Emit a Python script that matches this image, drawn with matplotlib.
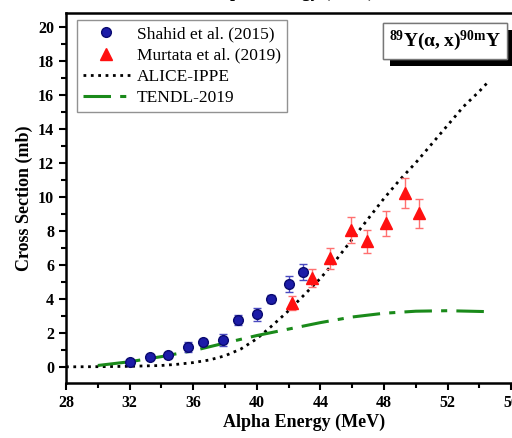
import numpy as np
import matplotlib
matplotlib.use('Agg')
import matplotlib.pyplot as plt
import matplotlib.patheffects as pe
from matplotlib.ticker import MultipleLocator

plt.rcParams['font.family'] = ['Liberation Serif', 'DejaVu Serif']
plt.rcParams['mathtext.fontset'] = 'custom'
plt.rcParams['mathtext.rm'] = 'Liberation Serif'
plt.rcParams['mathtext.bf'] = 'Liberation Serif:bold'

# Shahid et al. (2015)
shahid_E = [32.0, 33.3, 34.4, 35.7, 36.6, 37.9, 38.8, 40.0, 40.9, 42.0, 42.9]
shahid_xs = [0.28, 0.59, 0.67, 1.16, 1.47, 1.57, 2.76, 3.08, 3.98, 4.86, 5.57]
shahid_err = [0.12, 0.12, 0.15, 0.3, 0.15, 0.35, 0.31, 0.39, 0.25, 0.49, 0.49]

# Murtata et al. (2019)
murt_E = [42.2, 43.5, 44.6, 45.9, 46.95, 48.1, 49.3, 50.2]
murt_xs = [3.75, 5.23, 6.37, 8.06, 7.37, 8.45, 10.2, 9.02]
murt_err = [0.39, 0.52, 0.59, 0.76, 0.69, 0.74, 0.88, 0.85]

# ALICE-IPPE
alice_E = [28, 30, 32, 34, 35, 36, 37, 38, 39, 40, 41, 42, 43, 44, 45, 46,
           47, 48, 49, 50, 51, 52, 53, 54, 54.6]
alice_xs = [0.0, 0.01, 0.03, 0.08, 0.15, 0.25, 0.4, 0.65, 1.05, 1.65, 2.45, 3.3,
            4.25, 5.2, 6.3, 7.5, 8.7, 9.9, 11.0, 12.0, 13.1, 14.2, 15.3, 16.2,
            16.8]

# TENDL-2019
tendl_E = [30, 32, 34, 36, 38, 40, 42, 44, 46, 48, 50, 52, 54.3]
tendl_xs = [0.08, 0.3, 0.6, 0.95, 1.4, 1.84, 2.22, 2.6, 2.93, 3.15, 3.27, 3.3, 3.25]

fig = plt.figure(figsize=(5.12, 4.38), dpi=100)
ax = fig.add_axes([66/512, 55/438, 477/512, 370/438])

h1 = ax.errorbar(shahid_E, shahid_xs, yerr=shahid_err, fmt='o', color='#1c1ca8',
                 ecolor='#4a4ac0', elinewidth=1, capsize=3, markersize=7,
                 markeredgecolor='#0a0a70', zorder=4)
h2 = ax.errorbar(murt_E, murt_xs, yerr=murt_err, fmt='^', color='#ff1010',
                 ecolor='#ff7070', elinewidth=1, capsize=3, markersize=8,
                 markeredgecolor='#ff1010', zorder=4)
h3, = ax.plot(alice_E, alice_xs, ':', color='k', lw=2)
h4, = ax.plot(tendl_E, tendl_xs, color='#1a8a1a', lw=2.2, dashes=(9, 3, 2, 3))

ax.set_xlim(28, 58)
ax.set_ylim(-0.95, 20.8)
ax.xaxis.set_major_locator(MultipleLocator(4))
ax.xaxis.set_minor_locator(MultipleLocator(2))
ax.yaxis.set_major_locator(MultipleLocator(2))
ax.yaxis.set_minor_locator(MultipleLocator(1))
ax.tick_params(which='major', direction='out', length=5, width=1.5,
               labelsize=11.5, top=False, right=False)
ax.tick_params(which='minor', direction='out', length=3.5, width=1.5)
for lab in ax.get_xticklabels() + ax.get_yticklabels():
    lab.set_fontweight('bold')
for s in ax.spines.values():
    s.set_linewidth(1.8)

ax.set_xlabel('Alpha Energy (MeV)', fontsize=13, fontweight='bold', labelpad=2)
ax.set_ylabel('Cross Section (mb)', fontsize=13, fontweight='bold', labelpad=4)

# top label, mostly outside the picture as in the reference
fig.text(293/512, 1.0 + 3/438, 'Alpha Energy (MeV)', fontsize=13,
         fontweight='bold', ha='center', va='baseline')

leg = ax.legend([h1[0], h2[0], h3, h4],
                ['Shahid et al. (2015)', 'Murtata et al. (2019)', 'ALICE-IPPE', 'TENDL-2019'],
                loc='upper left', bbox_to_anchor=(0.023, 0.981), borderaxespad=0,
                fontsize=12.5, frameon=True, fancybox=False, edgecolor='#777777',
                handlelength=2.7, borderpad=0.35, labelspacing=0.3,
                handletextpad=0.4)
leg.get_frame().set_linewidth(1.0)

t = ax.text(0.677, 0.925, r'$\mathbf{^{89}Y(\alpha,x)^{90m}Y}$', transform=ax.transAxes,
            fontsize=14, ha='left', va='center',
            bbox=dict(boxstyle='square,pad=0.3', fc='white', ec='#777777', lw=1))
t.get_bbox_patch().set_path_effects([
    pe.withSimplePatchShadow(offset=(5, -5), shadow_rgbFace='k', alpha=1),
    pe.Normal()])

fig.savefig('out.png', dpi=100)
